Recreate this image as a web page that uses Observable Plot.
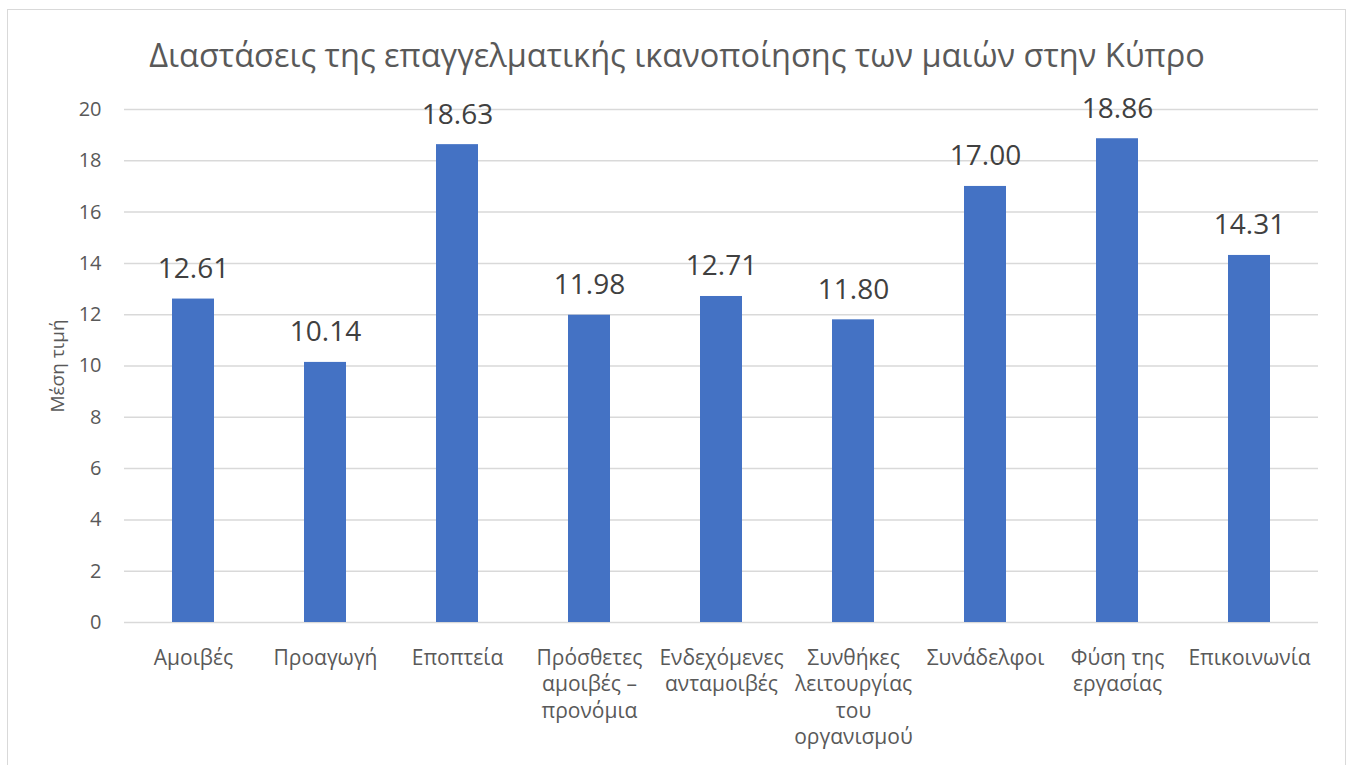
<!DOCTYPE html>
<html>
<head>
<meta charset="utf-8">
<script src="https://cdn.jsdelivr.net/npm/d3@7"></script>
<script src="https://cdn.jsdelivr.net/npm/@observablehq/plot@0.6"></script>
<style>
  html, body { margin: 0; padding: 0; background: #fff; overflow: hidden; }
  body { width: 1354px; height: 765px; position: relative; font-family: "Open Sans", sans-serif; }
  #frame { position: absolute; left: 7px; top: 9px; width: 1339px; height: 780px; border: 1.5px solid #d9d9d9; box-sizing: border-box; }
  #title { position: absolute; left: 0; width: 1354px; top: 34px; text-align: center; font-size: 32.5px; line-height: 42px; color: #595959; white-space: nowrap; }
  #chart { position: absolute; left: 0; top: 90px; }
</style>
</head>
<body>
<div id="frame"></div>
<div id="title">Διαστάσεις της επαγγελματικής ικανοποίησης των μαιών στην Κύπρο</div>
<div id="chart"></div>
<script>
// Dimensions of job satisfaction (mean scores)
const categories = [
  "Αμοιβές",
  "Προαγωγή",
  "Εποπτεία",
  "Πρόσθετες\nαμοιβές –\nπρονόμια",
  "Ενδεχόμενες\nανταμοιβές",
  "Συνθήκες\nλειτουργίας\nτου\nοργανισμού",
  "Συνάδελφοι",
  "Φύση της\nεργασίας",
  "Επικοινωνία"
];
const meanValues = [12.61, 10.14, 18.63, 11.98, 12.71, 11.80, 17.00, 18.86, 14.31];
const yTicks = [0, 2, 4, 6, 8, 10, 12, 14, 16, 18, 20];
const yLabel = "Μέση τιμή";

const data = categories.map((c, i) => ({category: c, value: meanValues[i]}));

const chart = Plot.plot({
  width: 1354,
  height: 675,
  marginTop: 19,
  marginBottom: 143,
  marginLeft: 124,
  marginRight: 36,
  style: {fontFamily: "'Open Sans', sans-serif", background: "transparent", overflow: "visible"},
  x: {domain: categories, paddingInner: 0.683, paddingOuter: 0.3415},
  y: {domain: [0, 20]},
  marks: [
    Plot.gridY(yTicks, {stroke: "#d9d9d9", strokeOpacity: 1, strokeWidth: 1.5}),
    Plot.barY(data, {x: "category", y: "value", fill: "#4472c4"}),
    Plot.axisY(yTicks, {tickSize: 0, tickPadding: 23, fontSize: 20, fill: "#595959", label: null}),
    Plot.axisX({tickSize: 0, tickPadding: 23.5, fontSize: 21, fill: "#595959", lineHeight: 1.26, lineAnchor: "top", label: null}),
    Plot.text(data, {x: "category", y: "value", text: d => d.value.toFixed(2), lineAnchor: "bottom", dy: -21, fontSize: 28, fill: "#404040"}),
    Plot.text([yLabel], {frameAnchor: "left", textAnchor: "middle", rotate: -90, dx: -67, fontSize: 19, fill: "#595959"})
  ]
});
document.getElementById("chart").appendChild(chart);
</script>
</body>
</html>
